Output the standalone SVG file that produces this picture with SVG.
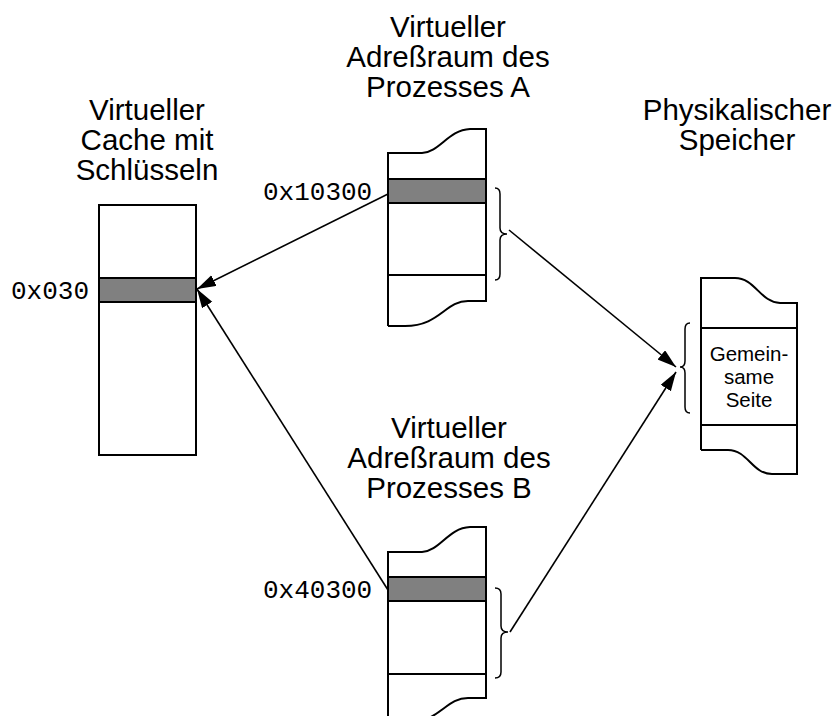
<svg xmlns="http://www.w3.org/2000/svg" width="839" height="716" viewBox="0 0 839 716">
  <style>
    .box { fill: none; stroke: #000; stroke-width: 2; }
    .band { fill: #808080; stroke: #000; stroke-width: 2; }
    .brace { fill: none; stroke: #000; stroke-width: 1.5; }
    .edge { fill: none; stroke: #000; stroke-width: 1.6; }
    .title { font-family: "Liberation Sans", Arial, sans-serif; font-size: 29.5px; text-anchor: middle; fill: #000; }
    .inner { font-family: "Liberation Sans", Arial, sans-serif; font-size: 20.5px; text-anchor: middle; fill: #000; }
    .addr { font-family: "Liberation Mono", "Courier New", monospace; font-size: 26px; fill: #000; }
  </style>
  <defs>
    <marker id="arrow" markerUnits="userSpaceOnUse" markerWidth="22" markerHeight="14" refX="19" refY="6" orient="auto">
      <path d="M0,0 L19,6 L0,12 z" fill="#000"/>
    </marker>
  </defs>
  <rect width="839" height="716" fill="#fff"/>

  <!-- virtual cache with keys -->
  <g id="cache">
    <text class="title" x="147" y="120">Virtueller</text>
    <text class="title" x="147" y="150">Cache mit</text>
    <text class="title" x="147" y="180">Schlüsseln</text>
    <rect class="box" x="99" y="205" width="97" height="250"/>
    <rect class="band" x="99" y="278" width="97" height="24"/>
    <text class="addr" x="11" y="299">0x030</text>
  </g>

  <!-- address space of process A -->
  <g id="procA">
    <text class="title" x="448" y="37">Virtueller</text>
    <text class="title" x="448" y="67">Adreßraum des</text>
    <text class="title" x="448" y="97">Prozesses A</text>
    <path class="box" d="M388,326 V153 H422 C440,152 448,130 470,129 H486 V301 H468 C445,301 440,326 405,326 H388"/>
    <rect class="band" x="388" y="179" width="98" height="24"/>
    <line class="box" x1="388" y1="275" x2="486" y2="275"/>
    <path class="brace" d="M495,188 Q500,188 500,194 V228 Q500,234 507,234 Q500,234 500,240 V274 Q500,280 495,280"/>
    <text class="addr" x="263" y="200">0x10300</text>
  </g>

  <!-- address space of process B -->
  <g id="procB">
    <text class="title" x="449" y="438">Virtueller</text>
    <text class="title" x="449" y="468">Adreßraum des</text>
    <text class="title" x="449" y="498">Prozesses B</text>
    <path class="box" d="M388,730 V552 H422 C440,551 448,528 470,527 H486 V698 H468 C445,698 440,723 405,723 H388"/>
    <rect class="band" x="388" y="577" width="98" height="24"/>
    <line class="box" x1="388" y1="674" x2="486" y2="674"/>
    <path class="brace" d="M495,588 Q501,588 501,594 V626 Q501,632 508,632 Q501,632 501,638 V672 Q501,678 495,678"/>
    <text class="addr" x="263" y="598">0x40300</text>
  </g>

  <!-- physical memory -->
  <g id="phys">
    <text class="title" x="737" y="120">Physikalischer</text>
    <text class="title" x="737" y="150">Speicher</text>
    <path class="box" d="M701,450 V278 H735 C755,278 760,302 780,303 H797 V474 H772 C752,474 748,450 728,450 H701"/>
    <line class="box" x1="701" y1="328" x2="797" y2="328"/>
    <line class="box" x1="701" y1="425" x2="797" y2="425"/>
    <path class="brace" d="M690,323 Q685,323 685,329 V361 Q685,367 680,367 Q685,367 685,373 V407 Q685,413 690,413"/>
    <text class="inner" x="749" y="361">Gemein-</text>
    <text class="inner" x="749" y="384">same</text>
    <text class="inner" x="749" y="407">Seite</text>
  </g>

  <!-- connectors -->
  <g id="edges">
    <line class="edge" x1="388" y1="194" x2="197" y2="289" marker-end="url(#arrow)"/>
    <line class="edge" x1="388" y1="590" x2="197" y2="289" marker-end="url(#arrow)"/>
    <line class="edge" x1="509" y1="230" x2="676" y2="367" marker-end="url(#arrow)"/>
    <line class="edge" x1="510" y1="632" x2="676" y2="372" marker-end="url(#arrow)"/>
  </g>
</svg>
